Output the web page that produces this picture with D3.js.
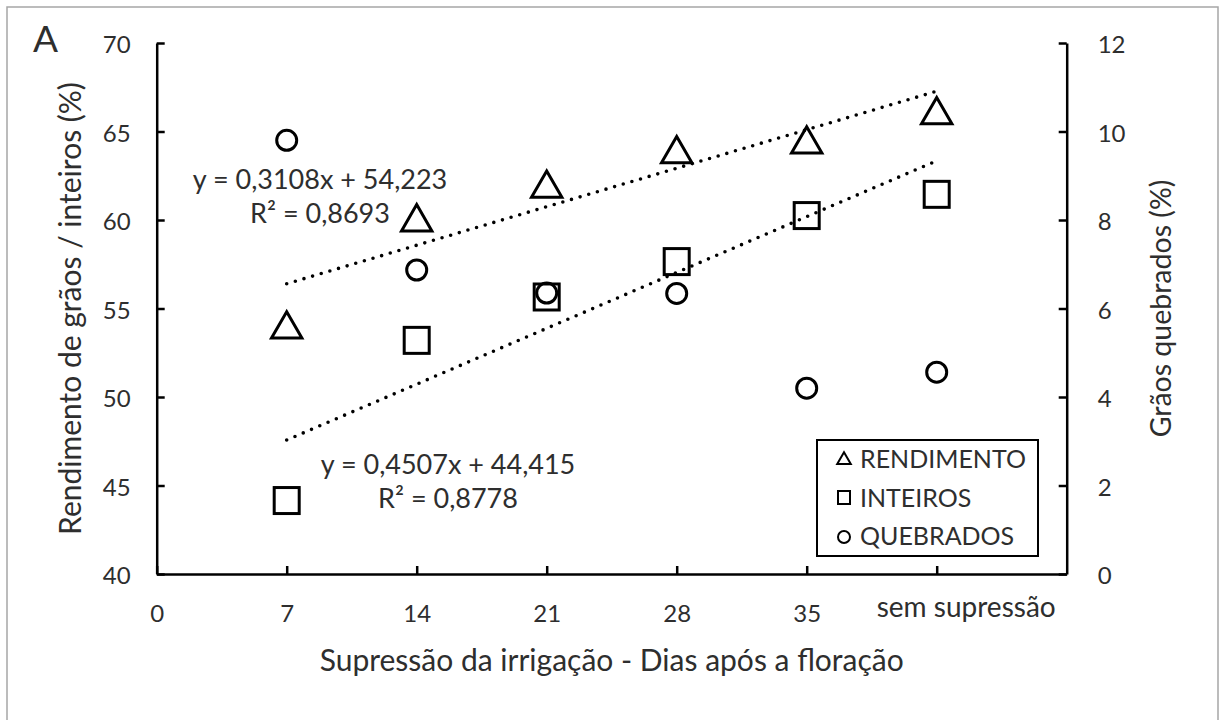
<!DOCTYPE html>
<html>
<head>
<meta charset="utf-8">
<script src="https://cdn.jsdelivr.net/npm/d3@7"></script>
<style>
  html, body { margin: 0; padding: 0; background: #fff; }
  svg text { font-family: Lato, "Open Sans", sans-serif; fill: #2e2e2e; }
</style>
</head>
<body>
<svg id="chart" width="1222" height="720"></svg>
<script>
// ---- data ----
const days = [7, 14, 21, 28, 35, 42];
const xTickValues = [0, 7, 14, 21, 28, 35, 42];
const xTickLabels = ["0", "7", "14", "21", "28", "35", "sem supressão"];
const leftTicks = [40, 45, 50, 55, 60, 65, 70];
const rightTicks = [0, 2, 4, 6, 8, 10, 12];
const rendimento = [54.0, 60.05, 61.95, 63.9, 64.45, 66.1];
const inteiros = [44.15, 53.2, 55.65, 57.65, 60.25, 61.45];
const quebrados = [9.8, 6.87, 6.35, 6.34, 4.2, 4.56];
const trendRend = { slope: 0.3108, intercept: 54.223 };
const trendInt = { slope: 0.4507, intercept: 44.415 };
const legendLabels = ["RENDIMENTO", "INTEIROS", "QUEBRADOS"];

const svg = d3.select("#chart");

// outer frame
svg.append("rect").attr("x", 7).attr("y", 7).attr("width", 1211).attr("height", 730)
  .attr("fill", "none").attr("stroke", "#a6a6a6").attr("stroke-width", 1.5);

const x = d3.scaleLinear().domain([0, 49]).range([156.7, 1066.7]);
const yL = d3.scaleLinear().domain([40, 70]).range([574, 43]);
const yR = d3.scaleLinear().domain([0, 12]).range([574, 43]);

function styleAxis(g) {
  g.select(".domain").attr("stroke", "#000").attr("stroke-width", 2.5);
  g.selectAll(".tick line").attr("stroke", "#000").attr("stroke-width", 2.5);
  g.selectAll(".tick text").attr("fill", "#2e2e2e").style("font-family", "Lato, sans-serif");
}

// left axis
const gL = svg.append("g").attr("transform", `translate(${x(0)},0)`)
  .call(d3.axisLeft(yL).tickValues(leftTicks).tickSize(-8).tickSizeOuter(0).tickPadding(26))
  .call(styleAxis);
gL.selectAll(".tick text").attr("font-size", 24).attr("dy", "0.4em");

// right axis
const gR = svg.append("g").attr("transform", `translate(${x(49)},0)`)
  .call(d3.axisRight(yR).tickValues(rightTicks).tickSize(-8).tickSizeOuter(0).tickPadding(31))
  .call(styleAxis);
gR.selectAll(".tick text").attr("font-size", 24).attr("dy", "0.4em");

// bottom axis
const gB = svg.append("g").attr("transform", `translate(0,${yL(40)})`)
  .call(d3.axisBottom(x).tickValues(xTickValues).tickSize(-8).tickSizeOuter(0)
    .tickFormat((d, i) => xTickLabels[i]))
  .call(styleAxis);
gB.selectAll(".tick text").attr("font-size", 24).attr("y", 48).attr("dy", 0);
gB.selectAll(".tick text").filter(d => d === 42)
  .attr("font-size", 28).attr("dx", 29).attr("y", 43);

// trend lines (dotted)
function trendLine(t, yScale) {
  const xs = [days[0], days[days.length - 1]];
  svg.append("line")
    .attr("x1", x(xs[0])).attr("y1", yScale(t.slope * xs[0] + t.intercept))
    .attr("x2", x(xs[1])).attr("y2", yScale(t.slope * xs[1] + t.intercept))
    .attr("stroke", "#000").attr("stroke-width", 3.6)
    .attr("stroke-linecap", "round").attr("stroke-dasharray", "0 9");
}
trendLine(trendRend, yL);
trendLine(trendInt, yL);

// markers
const tri = d3.symbol().type(d3.symbolTriangle).size(400);
svg.append("g").selectAll("path").data(days).join("path")
  .attr("d", tri)
  .attr("transform", (d, i) => `translate(${x(d)},${yL(rendimento[i]) + 3})`)
  .attr("fill", "none").attr("stroke", "#000").attr("stroke-width", 3);

svg.append("g").selectAll("rect").data(days).join("rect")
  .attr("x", d => x(d) - 12.5).attr("width", 25)
  .attr("y", (d, i) => yL(inteiros[i]) - 13).attr("height", 26)
  .attr("fill", "none").attr("stroke", "#000").attr("stroke-width", 3);

svg.append("g").selectAll("circle").data(days).join("circle")
  .attr("cx", d => x(d)).attr("cy", (d, i) => yR(quebrados[i])).attr("r", 10)
  .attr("fill", "none").attr("stroke", "#000").attr("stroke-width", 3);

// equation labels
function eq(cx, y1, t, r2) {
  svg.append("text").attr("x", cx).attr("y", y1).attr("text-anchor", "middle")
    .attr("font-size", 27).text(`y = ${String(t.slope).replace(".", ",")}x + ${String(t.intercept).replace(".", ",")}`);
  svg.append("text").attr("x", cx).attr("y", y1 + 34).attr("text-anchor", "middle")
    .attr("font-size", 27).text(`R² = ${r2}`);
}
eq(320, 189, trendRend, "0,8693");
eq(448, 474, trendInt, "0,8778");

// axis titles
svg.append("text").attr("x", x(24.5)).attr("y", 671).attr("text-anchor", "middle")
  .attr("font-size", 30).text("Supressão da irrigação - Dias após a floração");
svg.append("text").attr("transform", `translate(81,${(43 + 574) / 2}) rotate(-90)`)
  .attr("text-anchor", "middle").attr("font-size", 30)
  .text("Rendimento de grãos / inteiros (%)");
svg.append("text").attr("transform", `translate(1171,${(43 + 574) / 2}) rotate(-90)`)
  .attr("text-anchor", "middle").attr("font-size", 28.5)
  .text("Grãos quebrados (%)");

// panel letter
svg.append("text").attr("x", 33).attr("y", 52).attr("font-size", 37).text("A");

// legend
const lg = svg.append("g");
lg.append("rect").attr("x", 817).attr("y", 440).attr("width", 221).attr("height", 116)
  .attr("fill", "#fff").attr("stroke", "#000").attr("stroke-width", 2);
const rowY = [468, 507, 545];
lg.append("path").attr("d", d3.symbol().type(d3.symbolTriangle).size(80))
  .attr("transform", `translate(844,${rowY[0] - 8})`)
  .attr("fill", "none").attr("stroke", "#000").attr("stroke-width", 2);
lg.append("rect").attr("x", 838).attr("y", rowY[1] - 16).attr("width", 12).attr("height", 13)
  .attr("fill", "none").attr("stroke", "#000").attr("stroke-width", 2);
lg.append("circle").attr("cx", 844).attr("cy", rowY[2] - 8).attr("r", 6)
  .attr("fill", "none").attr("stroke", "#000").attr("stroke-width", 2);
lg.selectAll("text.lab").data(legendLabels).join("text").attr("class", "lab")
  .attr("x", 860).attr("y", (d, i) => rowY[i]).attr("font-size", 25).text(d => d);
</script>
</body>
</html>
